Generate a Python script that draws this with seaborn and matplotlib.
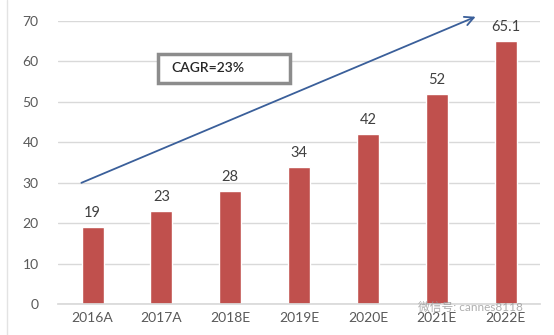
import matplotlib
matplotlib.use("Agg")
import matplotlib.pyplot as plt
import seaborn as sns
import pandas as pd
from matplotlib.lines import Line2D
from matplotlib.patches import Rectangle

years = ["2016A", "2017A", "2018E", "2019E", "2020E", "2021E", "2022E"]
values = [19, 23, 28, 34, 42, 52, 65.1]
labels = ["19", "23", "28", "34", "42", "52", "65.1"]
yticks = [0, 10, 20, 30, 40, 50, 60, 70]

sns.set_theme(style="white")
plt.rcParams['font.family'] = ['Lato', 'Noto Sans CJK SC', 'DejaVu Sans']

df = pd.DataFrame({"year": years, "value": values})
fig = plt.figure(figsize=(5.54, 3.35), dpi=100)
ax = fig.add_axes([0.105, 0.0925, 0.87, 0.845])
sns.barplot(data=df, x="year", y="value", color="#C0504D", saturation=1, width=0.32, ax=ax)
ax.set_ylim(0, 70)
ax.set_xlim(-0.5, 6.5)
ax.set_yticks(yticks)
ax.set_xlabel("")
ax.set_ylabel("")
ax.yaxis.grid(True, color="#D9D9D9", linewidth=1)
ax.set_axisbelow(True)
for s in ["left", "right", "top"]:
    ax.spines[s].set_visible(False)
ax.spines["bottom"].set_color("#D9D9D9")
ax.tick_params(axis="both", length=0, labelsize=10, labelcolor="#595959")
ax.tick_params(axis="y", pad=14)
ax.tick_params(axis="x", pad=6)

for i, (v, t) in enumerate(zip(values, labels)):
    ax.annotate(t, (i, v), xytext=(0, 5), textcoords="offset points",
                ha="center", va="bottom", fontsize=10.5, color="#404040")

ax.annotate("", xy=(5.6, 71.3), xytext=(-0.2, 29.7),
            arrowprops=dict(arrowstyle="->", color="#3A5F9A", lw=1.3, mutation_scale=16),
            annotation_clip=False)

ax.add_patch(Rectangle((0.95, 54.7), 1.92, 7.2, facecolor="white", edgecolor="#8C8C8C",
                       linewidth=2.5, zorder=3))
ax.text(1.15, 58.3, "CAGR=23%", fontsize=10, color="#262626", va="center", ha="left",
        fontweight="semibold", zorder=4)

fig.add_artist(Line2D([7/554, 7/554], [0, 1], color="#E3E3E3", lw=1, transform=fig.transFigure))
fig.text(0.755, 1 - 307/335, "微信号: cannes8118", fontsize=8.5, color="#9A9A9A",
         ha="left", va="center", alpha=0.8)

fig.savefig("out.png", dpi=100)
